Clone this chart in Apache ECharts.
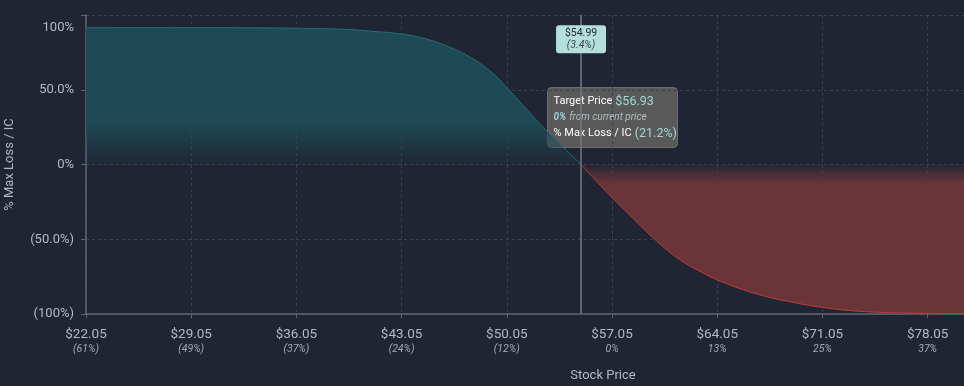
<!DOCTYPE html>
<html>
<head>
<meta charset="utf-8">
<script src="https://cdn.jsdelivr.net/npm/echarts@6/dist/echarts.min.js"></script>
<style>
html,body{margin:0;padding:0;background:#202533;}
#chart{width:964px;height:386px;}
</style>
</head>
<body>
<div id="chart"></div>
<script>
// ---- data ----
var profitPrices = [22.05, 26, 30, 34, 37, 39.5, 41, 43, 44.5, 46, 47.5, 49, 50, 51, 52, 53, 54, 55];
var profitValues = [91.5, 91.5, 91.5, 91.4, 91.0, 90.3, 89.2, 87.4, 84.5, 79.5, 72.5, 62, 52, 41, 30, 19.5, 9.5, 0];
var lossPrices = [55, 56, 57, 58, 59, 60, 61, 62, 63, 64, 65, 66, 67, 68, 69, 70, 71, 72, 73, 74, 76, 78, 80.47];
var lossValues = [0, -11, -21.5, -31.5, -41.5, -51, -59.5, -66.5, -72, -77, -81, -84.5, -87.5, -90, -92, -94, -95.5, -96.8, -97.8, -98.5, -99.2, -99.5, -99.7];
var xTickPrices = [22.05, 29.05, 36.05, 43.05, 50.05, 57.05, 64.05, 71.05, 78.05];
var xTickPcts = ['(61%)', '(49%)', '(37%)', '(24%)', '(12%)', '0%', '13%', '25%', '37%'];
var yTickValues = [-100, -50, 0, 50, 100];
var yTickLabels = ['(100%)', '(50.0%)', '0%', '50.0%', '100%'];
var currentPrice = 54.99;
var currentPct = '(3.4%)';
var markerY = 83.7;
var targetPrice = '$56.93';
var targetFromCurrent = '0%';
var targetLoss = '(21.2%)';

function zip(a, b) { return a.map(function (v, i) { return [v, b[i]]; }); }

var chart = echarts.init(document.getElementById('chart'), null, {renderer: 'canvas'});
var grid = '#3a4051';
var axisCol = '#5d6471';
var labelCol = '#b3b9c4';
var font = 'Roboto';

var option = {
  backgroundColor: '#202533',
  animation: false,
  textStyle: {fontFamily: font},
  grid: {left: 86, right: 0, top: 15, bottom: 72, containLabel: false, outerBoundsMode: 'none'},
  xAxis: {
    type: 'value',
    min: 22.05,
    max: 80.47,
    interval: 7,
    name: 'Stock Price',
    nameLocation: 'middle',
    nameGap: 55,
    nameTextStyle: {color: labelCol, fontSize: 13, fontFamily: font, padding: [0, 0, 0, 156]},
    axisLine: {onZero: false, lineStyle: {color: axisCol, width: 1.5}},
    axisTick: {show: true, length: 4, lineStyle: {color: axisCol}},
    splitLine: {show: true, lineStyle: {color: grid, type: [3, 3], width: 1}},
    axisLabel: {
      showMaxLabel: false,
      margin: 13,
      formatter: function (v) {
        for (var i = 0; i < xTickPrices.length; i++) {
          if (Math.abs(xTickPrices[i] - v) < 0.01) {
            return '{p|$' + xTickPrices[i].toFixed(2) + '}\n{q|' + xTickPcts[i] + '}';
          }
        }
        return '';
      },
      rich: {
        p: {fontSize: 13.5, color: labelCol, fontFamily: font, lineHeight: 15},
        q: {fontSize: 10.5, color: '#a3aab5', fontStyle: 'italic', fontFamily: font, lineHeight: 14}
      }
    }
  },
  yAxis: {
    type: 'value',
    min: -100,
    max: 100,
    interval: 50,
    name: '% Max Loss / IC',
    nameLocation: 'middle',
    nameGap: 70,
    nameTextStyle: {color: labelCol, fontSize: 13, fontFamily: font},
    axisLine: {show: true, onZero: false, lineStyle: {color: axisCol, width: 1.5}},
    axisTick: {show: true, length: 5, lineStyle: {color: axisCol}},
    splitLine: {show: true, lineStyle: {color: grid, type: [3, 3], width: 1}},
    axisLabel: {
      margin: 12,
      formatter: function (v) {
        var i = yTickValues.indexOf(v);
        var t = i >= 0 ? yTickLabels[i] : '';
        if (v === 100) return '{top|' + t + '}';
        return '{n|' + t + '}';
      },
      rich: {
        n: {fontSize: 13, color: labelCol, fontFamily: font},
        top: {fontSize: 13, color: labelCol, fontFamily: font, padding: [26, 0, 0, 0]}
      }
    }
  },
  series: [
    {
      type: 'line',
      data: zip(profitPrices, profitValues),
      smooth: 0.4,
      showSymbol: false,
      lineStyle: {color: '#246c72', width: 1},
      areaStyle: {
        origin: 0,
        opacity: 1,
        color: {
          type: 'linear', x: 0, y: 0, x2: 0, y2: 1,
          colorStops: [
            {offset: 0, color: 'rgba(30,74,86,1)'},
            {offset: 0.68, color: 'rgba(30,74,86,1)'},
            {offset: 1, color: 'rgba(30,74,86,0.05)'}
          ]
        }
      },
      z: 2
    },
    {
      type: 'line',
      data: zip(lossPrices, lossValues),
      smooth: 0.4,
      showSymbol: false,
      lineStyle: {color: '#c23d33', width: 1},
      areaStyle: {
        origin: 0,
        opacity: 1,
        color: {
          type: 'linear', x: 0, y: 0, x2: 0, y2: 1,
          colorStops: [
            {offset: 0, color: 'rgba(107,52,56,0.05)'},
            {offset: 0.13, color: 'rgba(107,52,56,1)'},
            {offset: 1, color: 'rgba(107,52,56,1)'}
          ]
        }
      },
      markLine: {
        silent: true,
        symbol: 'none',
        label: {show: false},
        lineStyle: {color: '#6f7b88', width: 1.5, type: 'solid'},
        data: [{xAxis: currentPrice}]
      },
      markPoint: {
        silent: true,
        symbol: 'path://M3,0 H47 Q50,0 50,3 V25 Q50,28 47,28 H3 Q0,28 0,25 V3 Q0,0 3,0 Z',
        symbolSize: [50, 28],
        symbolKeepAspect: false,
        itemStyle: {color: '#b4e0dc'},
        label: {
          show: true,
          position: 'inside',
          formatter: function () { return '{a|$' + currentPrice.toFixed(2) + '}\n{b|' + currentPct + '}'; },
          rich: {
            a: {fontSize: 10.5, color: '#1f2633', fontFamily: font, lineHeight: 12},
            b: {fontSize: 10.5, color: '#3a4452', fontStyle: 'italic', fontFamily: font, lineHeight: 12}
          }
        },
        data: [{coord: [currentPrice, markerY]}]
      },
      z: 2
    }
  ],
  graphic: [
    {
      type: 'group',
      left: 547,
      top: 87,
      z: 100,
      children: [
        {
          type: 'rect',
          shape: {x: 0, y: 0, width: 130, height: 60, r: 4},
          style: {fill: 'rgba(92,92,92,0.96)', stroke: '#6e6e6e', lineWidth: 1}
        },
        {
          type: 'text',
          x: 6, y: 6,
          style: {
            text: '{w|Target Price}{v|' + targetPrice + '}\n{i|' + targetFromCurrent + '}{j|from current price}\n{w|% Max Loss / IC}{v|' + targetLoss + '}',
            fontFamily: font,
            rich: {
              w: {fontSize: 11, fill: '#ffffff', fontFamily: font, lineHeight: 16},
              v: {fontSize: 12.5, fill: '#9edad4', fontFamily: font, lineHeight: 16, padding: [0, 0, 0, 3]},
              i: {fontSize: 10, fill: '#9ccfcc', fontStyle: 'italic', fontWeight: 'bold', fontFamily: font, lineHeight: 16},
              j: {fontSize: 10, fill: '#b5bcbf', fontStyle: 'italic', fontFamily: font, lineHeight: 16, padding: [0, 0, 0, 3]}
            }
          }
        }
      ]
    }
  ]
};
chart.setOption(option);
</script>
</body>
</html>
